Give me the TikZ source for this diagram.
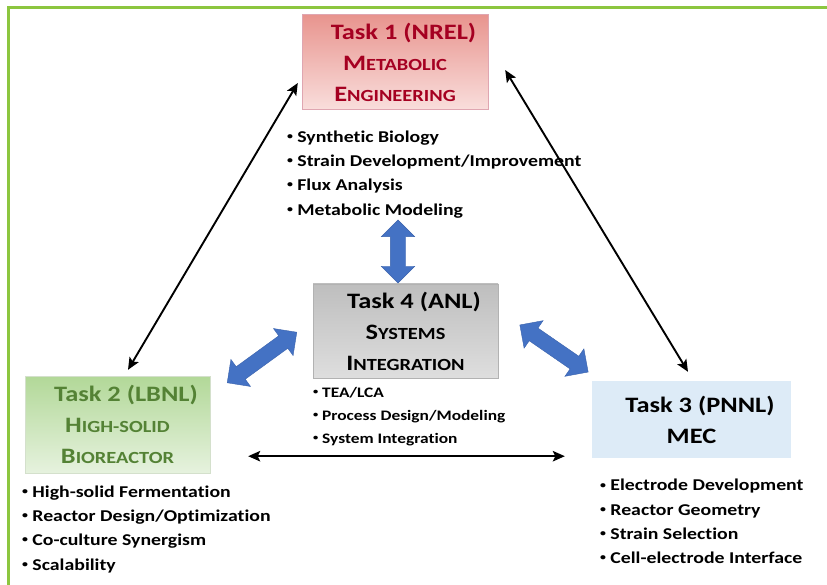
\documentclass[tikz,border=0pt]{standalone}
\usepackage{fontspec}
\setmainfont{Carlito}[FakeStretch=1.2, RawFeature={-liga;-clig;-calt}]
\usetikzlibrary{positioning,arrows.meta,shapes.arrows}
\definecolor{frame}{HTML}{8CC63F}
\definecolor{nrel}{HTML}{A50021}
\definecolor{lbnl}{HTML}{548235}
\definecolor{flow}{HTML}{4472C4}
\definecolor{flowedge}{HTML}{3A62AC}
% fake small caps: first letter, rest smaller
\newcommand{\smc}[2]{#1{\fontsize{17}{20}\selectfont #2}}
% small bullet
\newcommand{\itm}{\raisebox{0.18em}{\scalebox{0.6}{\textbullet}}\ }
% title line, a little right of centre
\newcommand{\ttl}[1]{\hspace*{17pt}#1}

\begin{document}
\begin{tikzpicture}[x=1pt,y=-1pt,
  task/.style={minimum width=186pt, minimum height=95pt, align=center, inner sep=0pt, font=\fontsize{22}{31}\selectfont\bfseries},
  items/.style={align=left, inner sep=0pt, font=\fontsize{16.5}{24.2}\selectfont\bfseries},
  link/.style={{Stealth[length=12pt,width=10.5pt,inset=2.5pt]}-{Stealth[length=12pt,width=10.5pt,inset=2.5pt]}, line width=1.9pt},
  fat/.style={double arrow, draw=flowedge, fill=flow, minimum width=33pt, double arrow head extend=9pt, inner sep=7.5pt}]
\useasboundingbox (0,0) rectangle (827,585);
\draw[frame, line width=3pt] (827,7.5) -- (8,7.5) -- (8,585);

% task boxes
\node[task, draw=nrel!35, top color={rgb,255:red,232;green,148;blue,142}, bottom color={rgb,255:red,249;green,222;blue,220}, text=nrel] (t1) at (395,62) {\ttl{Task 1 (NREL)}\\\smc{M}{ETABOLIC}\\\smc{E}{NGINEERING}};
\node[task, minimum width=185pt, minimum height=94pt, draw=gray!60, top color={rgb,255:red,190;green,190;blue,190}, bottom color={rgb,255:red,222;green,222;blue,222}] (t4) at (405.5,331) {\ttl{Task 4 (ANL)}\\\smc{S}{YSTEMS}\\\smc{I}{NTEGRATION}};
\node[task, minimum width=185pt, minimum height=97pt, draw=lbnl!25, top color={rgb,255:red,178;green,216;blue,152}, bottom color={rgb,255:red,230;green,242;blue,222}, text=lbnl] (t2) at (117.5,424.5) {\ttl{Task 2 (LBNL)}\\\smc{H}{IGH-SOLID}\\\smc{B}{IOREACTOR}};
\node[task, minimum width=199pt, minimum height=77pt, fill={rgb,255:red,221;green,235;blue,247}] (t3) at (691.5,419.5) {\ttl{Task 3 (PNNL)}\\MEC};

% bullet lists
\node[items, below right=21pt and -15pt of t1.south west] (l1) {\itm Synthetic Biology\\\itm Strain Development/Improvement\\\itm Flux Analysis\\\itm Metabolic Modeling};
\node[items, font=\fontsize{14.5}{23}\selectfont\bfseries, below right=9pt and 0pt of t4.south west] (l4) {\itm TEA/LCA\\\itm Process Design/Modeling\\\itm System Integration};
\node[items, below right=12.5pt and -3pt of t2.south west] (l2) {\itm High-solid Fermentation\\\itm Reactor Design/Optimization\\\itm Co-culture Synergism\\\itm Scalability};
\node[items, below right=21pt and 8pt of t3.south west] (l3) {\itm Electrode Development\\\itm Reactor Geometry\\\itm Strain Selection\\\itm Cell-electrode Interface};

% block arrows to task 4
\node[fat, minimum height=63pt, rotate=90] (f1) at (398,251.5) {};
\node[fat, minimum height=86pt, rotate=36] (f2) at (262,357.5) {};
\node[fat, minimum height=83pt, rotate=-34.6] (f3) at (554,348.5) {};

% links between tasks
\draw[link] ([shift={(-4pt,-21pt)}]t1.west) -- ([shift={(10.5pt,6pt)}]t2.north);
\draw[link] ([shift={(17pt,-8pt)}]t1.east) -- ([shift={(-3.5pt,9pt)}]t3.north);
\draw[link] ([shift={(38pt,17pt)}]t2.south east) -- ([shift={(-27pt,2pt)}]t3.south west);
\end{tikzpicture}
\end{document}
